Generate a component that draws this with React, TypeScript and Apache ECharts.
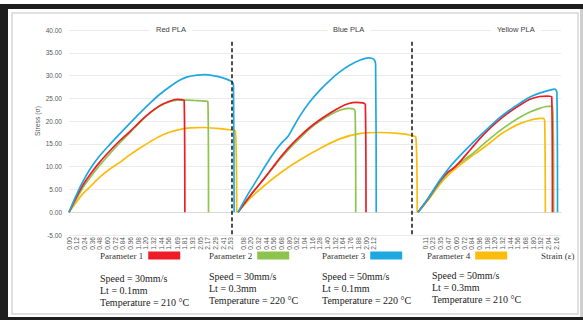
import React, { useEffect, useRef } from "react";
import * as echarts from "echarts";

// ---------- data ----------
const PANEL_TITLES = ["Red PLA", "Blue PLA", "Yellow PLA"];
const PARAMS = ["Parameter 1", "Parameter 2", "Parameter 3", "Parameter 4"];

const Y_MIN = -5;
const Y_MAX = 40;
const Y_STEP = 5;

const RED_X_TICKS = [0.0, 0.12, 0.24, 0.36, 0.48, 0.6, 0.72, 0.84, 0.96, 1.08, 1.2, 1.32, 1.44, 1.56, 1.69, 1.81, 1.93, 2.05, 2.17, 2.29, 2.41, 2.53];
const BLUE_X_TICKS = [0.08, 0.2, 0.32, 0.44, 0.56, 0.68, 0.8, 0.92, 1.04, 1.16, 1.28, 1.4, 1.52, 1.64, 1.76, 1.88, 2.0, 2.12];
const YELLOW_X_TICKS = [0.11, 0.23, 0.35, 0.47, 0.6, 0.72, 0.84, 0.96, 1.08, 1.2, 1.32, 1.44, 1.56, 1.68, 1.8, 1.92, 2.04, 2.16];

// [strain, stress]
const RED_PLA_P1 = [[0, 0], [0.1, 2.9], [0.2, 5.6], [0.33, 8.3], [0.48, 11.0], [0.64, 13.5], [0.8, 15.8], [0.95, 17.7], [1.11, 19.9], [1.27, 21.9], [1.42, 23.4], [1.56, 24.3], [1.69, 24.8], [1.76, 24.7], [1.8, 24.5], [1.81, 0]];
const RED_PLA_P2 = [[0, 0], [0.1, 2.5], [0.2, 5.0], [0.33, 7.6], [0.48, 10.3], [0.64, 12.9], [0.8, 15.3], [0.95, 17.4], [1.11, 19.8], [1.27, 21.8], [1.42, 23.3], [1.56, 24.2], [1.69, 24.6], [1.85, 24.6], [2.0, 24.5], [2.12, 24.4], [2.17, 24.3], [2.18, 0]];
const RED_PLA_P3 = [[0, 0], [0.1, 3.3], [0.2, 6.3], [0.33, 9.5], [0.48, 12.4], [0.64, 14.9], [0.8, 17.3], [0.95, 19.5], [1.11, 21.8], [1.27, 24.0], [1.42, 25.9], [1.58, 27.6], [1.72, 28.9], [1.85, 29.7], [2.0, 30.1], [2.12, 30.2], [2.25, 30.0], [2.38, 29.6], [2.48, 29.1], [2.55, 28.6], [2.57, 27.8], [2.58, 0]];
const RED_PLA_P4 = [[0, 0], [0.1, 1.9], [0.2, 3.8], [0.33, 5.6], [0.48, 7.7], [0.64, 9.5], [0.8, 11.0], [0.95, 12.6], [1.11, 14.1], [1.27, 15.5], [1.42, 16.7], [1.58, 17.6], [1.74, 18.2], [1.9, 18.5], [2.1, 18.6], [2.3, 18.4], [2.5, 18.1], [2.6, 17.8], [2.62, 0]];

const BLUE_PLA_P1 = [[0, 0], [0.2, 3.8], [0.42, 7.6], [0.55, 10.0], [0.66, 12.0], [0.8, 14.3], [0.97, 16.7], [1.12, 18.6], [1.28, 20.3], [1.44, 21.8], [1.59, 23.0], [1.72, 23.8], [1.85, 24.1], [1.95, 24.0], [1.99, 23.6], [2.0, 0]];
const BLUE_PLA_P2 = [[0, 0], [0.2, 3.8], [0.42, 7.6], [0.55, 9.8], [0.66, 11.7], [0.8, 13.9], [0.97, 16.3], [1.12, 18.3], [1.28, 20.0], [1.44, 21.4], [1.59, 22.4], [1.72, 22.8], [1.8, 22.7], [1.83, 22.2], [1.84, 0]];
const BLUE_PLA_P3 = [[0, 0], [0.15, 3.8], [0.29, 7.0], [0.45, 10.7], [0.6, 13.8], [0.7, 15.5], [0.78, 16.6], [0.85, 18.3], [0.97, 21.2], [1.12, 24.2], [1.28, 26.8], [1.44, 29.0], [1.59, 30.8], [1.75, 32.3], [1.91, 33.4], [2.04, 33.9], [2.12, 33.6], [2.15, 32.5], [2.16, 0]];
const BLUE_PLA_P4 = [[0, 0], [0.2, 3.2], [0.4, 5.7], [0.66, 8.6], [0.97, 11.5], [1.28, 14.0], [1.59, 16.1], [1.91, 17.3], [2.22, 17.5], [2.5, 17.3], [2.7, 16.9], [2.78, 16.4], [2.8, 0]];

const YELLOW_PLA_P1 = [[0, 0], [0.15, 2.8], [0.34, 6.8], [0.45, 8.6], [0.55, 9.6], [0.65, 11.0], [0.81, 13.6], [0.97, 16.2], [1.13, 18.5], [1.28, 20.4], [1.44, 22.1], [1.6, 23.6], [1.75, 24.8], [1.9, 25.4], [2.02, 25.5], [2.09, 25.3], [2.1, 0]];
const YELLOW_PLA_P2 = [[0, 0], [0.15, 2.7], [0.34, 6.5], [0.5, 9.0], [0.65, 10.8], [0.81, 12.4], [0.97, 14.3], [1.13, 16.2], [1.28, 17.9], [1.44, 19.5], [1.6, 20.9], [1.75, 22.0], [1.9, 22.8], [2.0, 23.2], [2.11, 23.3], [2.12, 0]];
const YELLOW_PLA_P3 = [[0, 0], [0.15, 2.9], [0.34, 7.0], [0.5, 10.0], [0.65, 12.3], [0.81, 14.6], [0.97, 16.8], [1.13, 18.9], [1.28, 20.8], [1.44, 22.5], [1.6, 24.0], [1.75, 25.3], [1.91, 26.2], [2.06, 26.8], [2.14, 27.0], [2.17, 26.3], [2.18, 0]];
const YELLOW_PLA_P4 = [[0, 0], [0.15, 2.5], [0.34, 6.1], [0.5, 8.5], [0.65, 10.3], [0.81, 12.0], [0.97, 13.6], [1.13, 15.3], [1.28, 17.0], [1.44, 18.4], [1.6, 19.5], [1.75, 20.2], [1.9, 20.6], [1.96, 20.6], [1.98, 20.0], [1.99, 0]];

const PARAM_DESCRIPTIONS = [
  ["Speed = 30mm/s", "Lt = 0.1mm", "Temperature = 210 °C"],
  ["Speed = 30mm/s", "Lt = 0.3mm", "Temperature = 220 °C"],
  ["Speed = 50mm/s", "Lt = 0.1mm", "Temperature = 220 °C"],
  ["Speed = 50mm/s", "Lt = 0.3mm", "Temperature = 210 °C"],
];

// panel separators (strain position in panel, top stress)
const SEPARATOR_X = [2.547, 2.72];
const SEPARATOR_TOP = 37.4;

// ---------- layout / style ----------
const COLORS = ["#ee1c25", "#8dc44e", "#1fa8e0", "#fbbc0c"];
const PX_PER_STRAIN = 64;
const PANEL_LEFT = [69, 238, 418];
const PANEL_X_MAX = [2.64, 2.8125, 2.234];
const GRID_TOP = 30;
const GRID_HEIGHT = 205;
const TITLE_LEFT = [150, 327, 491];
const LEGEND_LEFT = [100, 209, 322, 427];
const DESC_LEFT = [100, 209, 322, 432];
const DESC_TOP = [278, 276, 276, 275];

const SANS = "'Liberation Sans', Arial, sans-serif";
const SERIF = "'Liberation Serif', 'Times New Roman', serif";

const PANEL_DATA = [
  [RED_PLA_P1, RED_PLA_P2, RED_PLA_P3, RED_PLA_P4],
  [BLUE_PLA_P1, BLUE_PLA_P2, BLUE_PLA_P3, BLUE_PLA_P4],
  [YELLOW_PLA_P1, YELLOW_PLA_P2, YELLOW_PLA_P3, YELLOW_PLA_P4],
];
const PANEL_TICKS = [RED_X_TICKS, BLUE_X_TICKS, YELLOW_X_TICKS];

export default function App() {
  const ref = useRef<HTMLDivElement>(null);

  useEffect(() => {
    if (!ref.current) return;
    const chart = echarts.init(ref.current, null, { renderer: "svg" });

    const grids = PANEL_LEFT.map((left, i) => ({
      left,
      top: GRID_TOP,
      width: PANEL_X_MAX[i] * PX_PER_STRAIN,
      height: GRID_HEIGHT,
      containLabel: false,
    }));

    const xAxes = PANEL_TICKS.map((ticks, i) => ({
      type: "value",
      gridIndex: i,
      min: 0,
      max: PANEL_X_MAX[i],
      splitLine: { show: false },
      axisTick: { show: false },
      axisLine: { show: true, onZero: true, lineStyle: { color: "#d9d9d9", width: 1 } },
      axisLabel: {
        show: true,
        customValues: ticks,
        rotate: 90,
        margin: 2,
        fontSize: 6.6,
        color: "#595959",
        fontFamily: SANS,
        formatter: (v: number) => v.toFixed(2),
      },
    }));

    const yAxes = PANEL_LEFT.map((_, i) => ({
      type: "value",
      gridIndex: i,
      min: Y_MIN,
      max: Y_MAX,
      interval: Y_STEP,
      axisLine: { show: false },
      axisTick: { show: false },
      splitLine: { show: true, lineStyle: { color: "#ebebeb", width: 1 } },
      axisLabel: {
        show: i === 0,
        margin: 7,
        fontSize: 6.5,
        color: "#595959",
        fontFamily: SANS,
        formatter: (v: number) => v.toFixed(2),
      },
    }));

    const order = [3, 1, 0, 2];
    const series: any[] = [];
    PANEL_DATA.forEach((panel, pi) => {
      order.forEach((k) => {
        series.push({
          type: "line",
          name: PARAMS[k],
          xAxisIndex: pi,
          yAxisIndex: pi,
          data: panel[k],
          showSymbol: false,
          symbol: "none",
          smooth: 0.25,
          color: COLORS[k],
          lineStyle: { color: COLORS[k], width: 1.7, join: "round" },
          z: 3,
        });
      });
    });
    SEPARATOR_X.forEach((x, pi) => {
      series.push({
        type: "line",
        name: "separator" + pi,
        xAxisIndex: pi,
        yAxisIndex: pi,
        data: [],
        markLine: {
          silent: true,
          symbol: "none",
          label: { show: false },
          lineStyle: { color: "#222", type: [4, 2.5], width: 1.6 },
          data: [[{ coord: [x, SEPARATOR_TOP] }, { coord: [x, Y_MIN] }]],
        },
      });
    });

    const legends = PARAMS.map((p, i) => ({
      data: [p],
      left: LEGEND_LEFT[i],
      top: 251,
      padding: 0,
      align: "right",
      icon: "rect",
      itemWidth: 32,
      itemHeight: 8,
      selectedMode: false,
      itemStyle: { color: COLORS[i] },
      lineStyle: { opacity: 0 },
      textStyle: { fontFamily: SERIF, fontSize: 9, color: "#333" },
    }));

    const titles = PANEL_TITLES.map((t, i) => ({
      text: t,
      left: TITLE_LEFT[i],
      top: 24.5,
      padding: [1, 6],
      backgroundColor: "#fff",
      textStyle: { fontSize: 7.5, fontWeight: "normal", color: "#404040", fontFamily: SANS },
    }));

    const graphics: any[] = [
      { type: "rect", shape: { x: 0, y: 4, width: 583, height: 5 }, style: { fill: "#1e1e1e" } },
      { type: "rect", shape: { x: 0, y: 4, width: 8, height: 316 }, style: { fill: "#1e1e1e" } },
      { type: "rect", shape: { x: 0, y: 317, width: 583, height: 3 }, style: { fill: "#1e1e1e" } },
      { type: "rect", shape: { x: 580, y: 9, width: 3, height: 308 }, style: { fill: "#cfcfcf" } },
      { type: "rect", shape: { x: 12, y: 13, width: 566, height: 301 }, style: { fill: "none", stroke: "#d6d6d6", lineWidth: 1.5 } },
      {
        type: "text",
        x: 37.5,
        y: 121,
        rotation: Math.PI / 2,
        style: { text: "Stress (σ)", fontSize: 6.8, fontFamily: SANS, fill: "#595959", textAlign: "center", textVerticalAlign: "middle" },
      },
      {
        type: "text",
        x: 541,
        y: 256,
        style: { text: "Strain (ε)", fontSize: 9, fontFamily: SERIF, fill: "#333", textVerticalAlign: "middle" },
      },
    ];
    PARAM_DESCRIPTIONS.forEach((lines, i) => {
      lines.forEach((line, j) => {
        graphics.push({
          type: "text",
          x: DESC_LEFT[i],
          y: DESC_TOP[i] + j * 12.3,
          style: { text: line, fontSize: 10, fontFamily: SERIF, fill: "#222", textVerticalAlign: "middle" },
        });
      });
    });

    chart.setOption({
      animation: false,
      backgroundColor: "#fff",
      title: titles,
      legend: legends,
      grid: grids,
      xAxis: xAxes,
      yAxis: yAxes,
      series,
      graphic: graphics,
    });

    return () => chart.dispose();
  }, []);

  return (
    <div
      ref={ref}
      style={{ position: "fixed", left: 0, top: 0, width: 583, height: 320, background: "#fff" }}
    />
  );
}
